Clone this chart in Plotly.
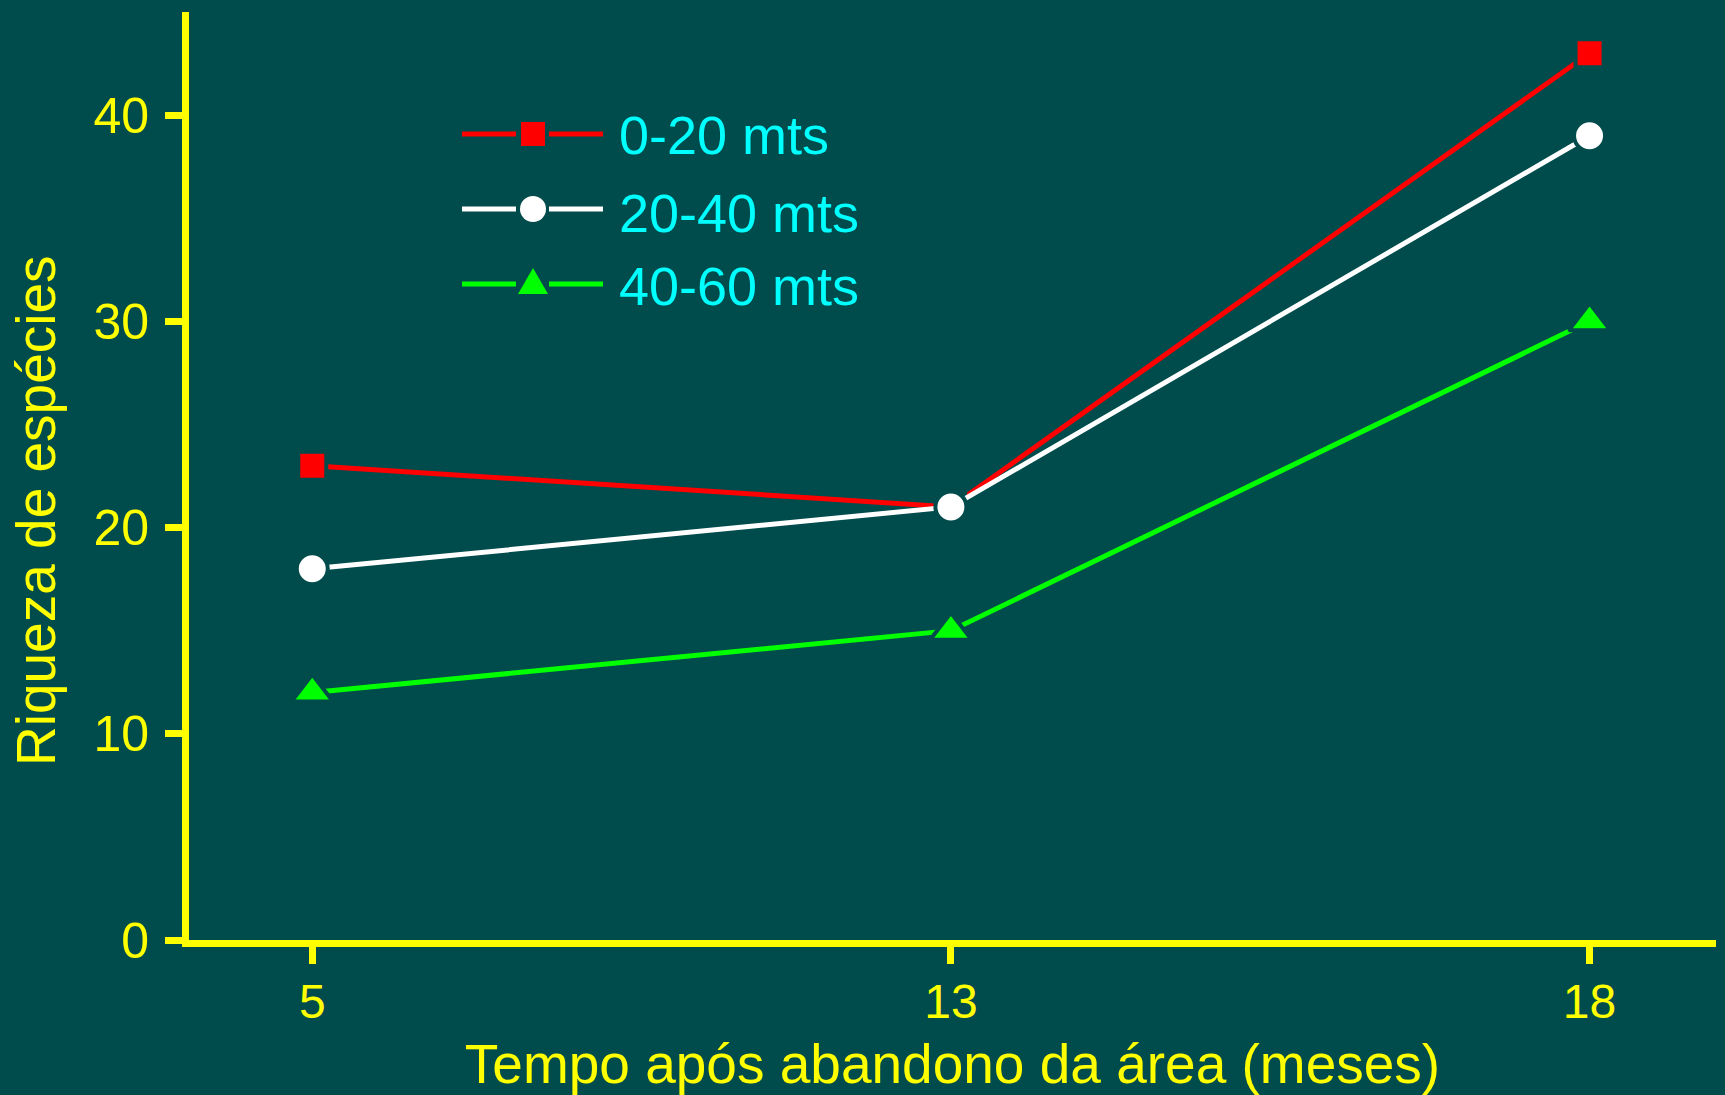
import plotly.graph_objects as go

# ---------------- data ----------------
meses = ["5", "13", "18"]
serie_nomes = ["0-20 mts", "20-40 mts", "40-60 mts"]
riqueza_0_20 = [23, 21, 43]
riqueza_20_40 = [18, 21, 39]
riqueza_40_60 = [12, 15, 30]
y_ticks = [0, 10, 20, 30, 40]
x_titulo = "Tempo após abandono da área (meses)"
y_titulo = "Riqueza de espécies"

# ---------------- style ----------------
W, H = 1725, 1095
ML, MR, MT, MB = 189, 9, 12, 155
PW, PH = W - ML - MR, H - MT - MB
BG = "#004B4B"
YEL = "#FFFF00"
CYAN = "#00FFFF"
FONT = "Liberation Sans, Arial, sans-serif"
colors = ["#FF0000", "#FFFFFF", "#00FF00"]
symbols = ["square", "circle", "triangle-up"]
msizes = [28, 31, 36]


def px_x(p):
    return (p - ML) / PW


def px_y(p):
    return 1 - (p - MT) / PH


fig = go.Figure()
series = [riqueza_0_20, riqueza_20_40, riqueza_40_60]
for name, vals, c, s, sz in zip(serie_nomes, series, colors, symbols, msizes):
    fig.add_trace(go.Scatter(
        x=meses, y=vals, mode="lines+markers", name=name,
        line=dict(color=c, width=5),
        marker=dict(symbol=s, size=sz, color=c, line=dict(color=BG, width=4)),
        showlegend=False, cliponaxis=False,
    ))

# ---------------- manual legend (long line samples) ----------------
shapes = []
annotations = []
row_y = [134, 209, 284]
text_y = [135, 213, 286]
for i, (name, c, s) in enumerate(zip(serie_nomes, colors, symbols)):
    yy = px_y(row_y[i])
    for a, b in [(462, 516), (549, 603)]:
        shapes.append(dict(type="line", xref="paper", yref="paper",
                           x0=px_x(a), x1=px_x(b), y0=yy, y1=yy,
                           line=dict(color=c, width=5)))
    cx = 533
    if s == "square":
        shapes.append(dict(type="rect", xref="paper", yref="paper",
                           x0=px_x(cx - 12), x1=px_x(cx + 12),
                           y0=px_y(row_y[i] + 12), y1=px_y(row_y[i] - 12),
                           fillcolor=c, line=dict(width=0)))
    elif s == "circle":
        shapes.append(dict(type="circle", xref="paper", yref="paper",
                           x0=px_x(cx - 13), x1=px_x(cx + 13),
                           y0=px_y(row_y[i] + 13), y1=px_y(row_y[i] - 13),
                           fillcolor=c, line=dict(width=0)))
    else:
        ax_, ay_ = px_x(cx), px_y(row_y[i] - 16)
        lx, ly = px_x(cx - 15), px_y(row_y[i] + 10)
        rx, ry = px_x(cx + 15), px_y(row_y[i] + 10)
        shapes.append(dict(type="path", xref="paper", yref="paper",
                           path=f"M {lx} {ly} L {rx} {ry} L {ax_} {ay_} Z",
                           fillcolor=c, line=dict(width=0)))
    annotations.append(dict(text=name, xref="paper", yref="paper",
                            x=px_x(617), y=px_y(text_y[i]),
                            xanchor="left", yanchor="middle", showarrow=False,
                            font=dict(family=FONT, size=54, color=CYAN)))

annotations.append(dict(text=y_titulo, xref="paper", yref="paper",
                        x=px_x(36), y=px_y(511), textangle=-90,
                        xanchor="center", yanchor="middle", showarrow=False,
                        font=dict(family=FONT, size=55, color=YEL)))

fig.update_layout(
    width=W, height=H,
    margin=dict(l=ML, r=MR, t=MT, b=MB, pad=0),
    paper_bgcolor=BG, plot_bgcolor=BG,
    font=dict(family=FONT, color=YEL),
    showlegend=False,
    shapes=shapes, annotations=annotations,
    xaxis=dict(
        type="category", range=[-0.193, 2.198],
        showgrid=False, zeroline=False,
        showline=True, linecolor=YEL, linewidth=7,
        ticks="outside", ticklen=17, tickwidth=7, tickcolor=YEL,
        ticklabelstandoff=-4,
        tickfont=dict(family=FONT, size=48, color=YEL),
        title=dict(text=x_titulo, standoff=20,
                   font=dict(family=FONT, size=55, color=YEL)),
    ),
    yaxis=dict(
        range=[0, 45], tickvals=y_ticks,
        showgrid=False, zeroline=False,
        showline=True, linecolor=YEL, linewidth=7,
        ticks="outside", ticklen=17, tickwidth=7, tickcolor=YEL,
        ticklabelstandoff=6,
        tickfont=dict(family=FONT, size=50, color=YEL),
    ),
)

fig.write_html(
    "out.html",
    config={"displayModeBar": False},
    post_script=("document.body.style.margin='0';"
                 "document.body.style.padding='0';"
                 "document.body.style.background='" + BG + "';"),
)
